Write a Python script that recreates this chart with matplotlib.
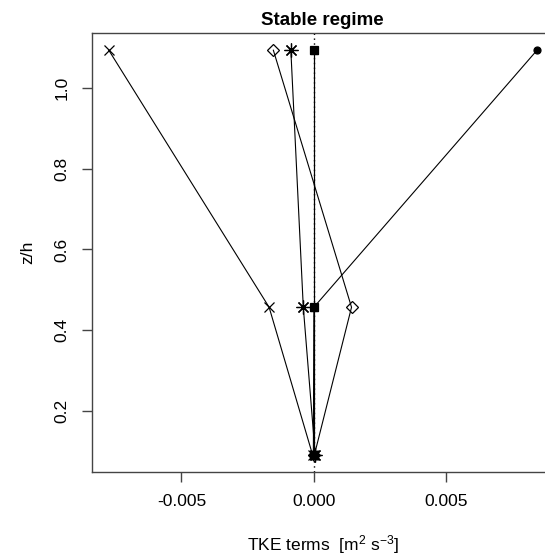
import numpy as np
import matplotlib.pyplot as plt

plt.rcParams['font.family'] = ['Liberation Sans', 'DejaVu Sans']
plt.rcParams['mathtext.fontset'] = 'custom'
plt.rcParams['mathtext.rm'] = 'Liberation Sans'
plt.rcParams['mathtext.it'] = 'Liberation Sans:italic'

# heights (z/h) of the three levels
zh = [0.092, 0.457, 1.093]

# TKE budget terms at each level [m2 s-3]
shear = [-0.00005, -0.00169, -0.00774]
transport = [0.00002, 0.00142, -0.00153]
pressure = [0.00005, -0.00040, -0.00087]
buoyancy = [-0.00002, 0.00000, 0.00842]
dissipation = [0.00000, 0.00000, 0.00000]
storage = [0.00001, 0.00001, 0.00001]

terms = [
    (shear, dict(marker='x', ms=7, mfc='none')),
    (transport, dict(marker='D', ms=6.5, mfc='none')),
    (pressure, dict(marker=(8, 2, 0), ms=10, mfc='none')),
    (buoyancy, dict(marker='o', ms=5, mfc='black')),
    (dissipation, dict(marker='s', ms=6, mfc='black')),
    (storage, dict(marker='^', ms=6, mfc='none')),
]

fig = plt.figure(figsize=(5.45, 5.59), dpi=100)
ax = fig.add_axes([0.168, 0.156, 0.848, 0.785])

for vals, style in terms:
    ax.plot(vals, zh, color='black', lw=0.8, mec='black', mew=0.9, **style)

ax.axvline(0, color='black', lw=1.0, ls=(0, (1, 2.5)))

ax.set_xlim(-0.00839, 0.00905)
ax.set_ylim(0.0498, 1.1356)
ax.set_xticks([-0.005, 0.0, 0.005])
ax.set_xticklabels(['-0.005', '0.000', '0.005'])
ax.set_yticks([0.2, 0.4, 0.6, 0.8, 1.0])
ax.set_yticklabels(['0.2', '0.4', '0.6', '0.8', '1.0'], rotation=90, va='center')

for s in ax.spines.values():
    s.set_color('#444444')
    s.set_linewidth(1.0)
ax.tick_params(direction='out', length=7, width=1.0, color='#444444',
               labelsize=12.5, pad=9)

ax.set_title('Stable regime', fontsize=13.5, fontweight='bold', pad=6)
ax.set_xlabel(r'TKE terms  $[\mathrm{m}^2\ \mathrm{s}^{-3}]$', fontsize=12.5, labelpad=17)
ax.set_ylabel('z/h', fontsize=12.5, labelpad=14)

fig.savefig('out.png', dpi=100)
